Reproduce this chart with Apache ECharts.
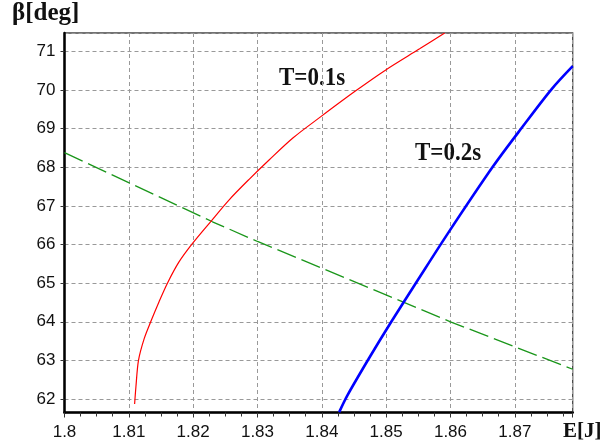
<!DOCTYPE html>
<html><head><meta charset="utf-8">
<script src="https://cdn.jsdelivr.net/npm/echarts@6/dist/echarts.min.js"></script>
<style>html,body{margin:0;padding:0;background:#fff}#c{width:605px;height:448px}</style>
</head><body><div id="c"></div>
<script>
const xRange = [1.8, 1.879];
const yRange = [61.65, 71.48];
const redT01 = [[1.8109,61.87],[1.8111,62.31],[1.8115,63.00],[1.8124,63.57],[1.8134,64.0],[1.8147,64.52],[1.8160,65.0],[1.8178,65.55],[1.8199,66.03],[1.8227,66.59],[1.8256,67.16],[1.8287,67.69],[1.8318,68.19],[1.8355,68.76],[1.8399,69.32],[1.8450,69.95],[1.8500,70.53],[1.8552,71.07],[1.8591,71.48]];
const blueT02 = [[1.8427,61.66],[1.8440,62.1],[1.8475,63.1],[1.8508,64.0],[1.8550,65.1],[1.8596,66.29],[1.8666,68.02],[1.8712,69.05],[1.8757,70.02],[1.8790,70.62]];
const greenLine = [[1.8,68.38],[1.823,66.59],[1.83,66.08],[1.84,65.39],[1.86,64.0],[1.879,62.77]];
const labels = {y: 'β[deg]', x: 'E[J]', s1: 'T=0.1s', s2: 'T=0.2s'};

const chart = echarts.init(document.getElementById('c'), null, {renderer: 'canvas'});
const serif = '"Liberation Serif","DejaVu Serif",serif';
chart.setOption({
  animation: false,
  backgroundColor: '#fff',
  grid: {left: 64.5, right: 32.3, top: 33, bottom: 35.5, show: true, borderColor: '#444', borderWidth: 1.3, containLabel: false},
  xAxis: {
    type: 'value', min: xRange[0], max: xRange[1], interval: 0.01,
    axisLine: {show: true, onZero: false, lineStyle: {color: '#000', width: 2.5}},
    axisTick: {show: true, length: 5, lineStyle: {color: '#333'}},
    minorTick: {show: true, splitNumber: 4, length: 4, lineStyle: {color: '#333'}},
    axisLabel: {showMaxLabel: false, color: '#111', fontSize: 17, fontFamily: '"Liberation Sans",Arial,sans-serif', margin: 11},
    splitLine: {show: true, lineStyle: {color: '#999', type: [4, 3], width: 1}}
  },
  yAxis: {
    type: 'value', min: yRange[0], max: yRange[1], splitNumber: 10,
    axisLine: {show: true, onZero: false, lineStyle: {color: '#000', width: 2.5}},
    axisTick: {show: true, length: 4, lineStyle: {color: '#333'}},
    axisLabel: {showMinLabel: false, showMaxLabel: false, color: '#111', fontSize: 17, fontFamily: '"Liberation Sans",Arial,sans-serif', margin: 9},
    splitLine: {show: true, lineStyle: {color: '#999', type: [4, 3], width: 1}}
  },
  series: [
    {type: 'line', data: greenLine, showSymbol: false, lineStyle: {color: '#1a961a', width: 1.3, type: [20, 6]}, z: 3},
    {type: 'line', data: redT01, showSymbol: false, smooth: 0.3, lineStyle: {color: '#ff0000', width: 1.2}, z: 4},
    {type: 'line', data: blueT02, showSymbol: false, smooth: 0.3, lineStyle: {color: '#0000ff', width: 2.6}, z: 5}
  ],
  graphic: [
    {type: 'text', left: 12, top: 1, style: {text: labels.y, font: 'bold 25px ' + serif, fill: '#111'}},
    {type: 'text', left: 563, top: 421, style: {text: labels.x, font: 'bold 21px ' + serif, fill: '#111'}},
    {type: 'text', left: 279, top: 66, scaleY: 1.1, style: {text: labels.s1, font: 'bold 23px ' + serif, fill: '#111'}},
    {type: 'text', left: 415, top: 142, scaleY: 1.05, style: {text: labels.s2, font: 'bold 23px ' + serif, fill: '#111'}}
  ]
});
</script></body></html>
